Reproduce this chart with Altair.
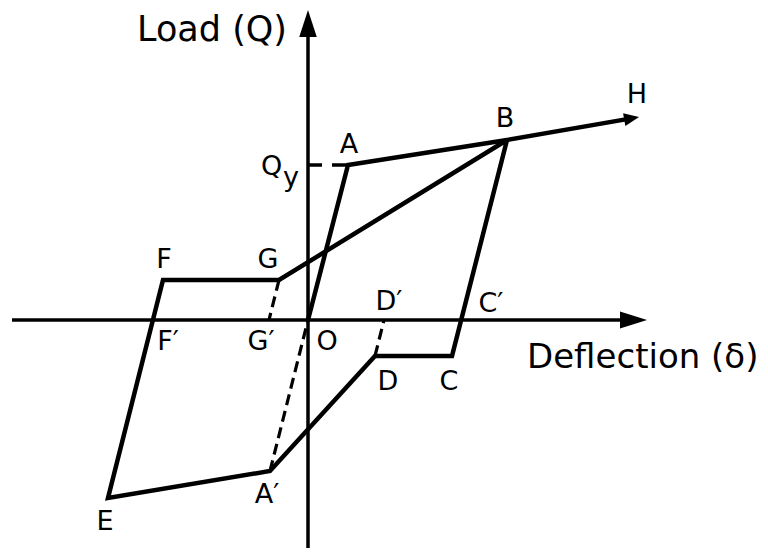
import altair as alt
import pandas as pd

# ---- data (deflection δ, load Q) in arbitrary units ----
# primary loading path O -> A -> B -> H
main_names = ["O", "A", "B", "H"]
main_x = [0.0, 4.0, 19.9, 32.2]
main_y = [0.0, 15.5, 18.0, 20.14]

# hysteresis loop B -> C -> D -> A' -> E -> F -> G -> B
loop_names = ["B", "C", "D", "A′", "E", "F", "G", "B"]
loop_x = [19.9, 14.4, 6.7, -3.8, -20.0, -14.5, -2.9, 19.9]
loop_y = [18.0, -3.6, -3.6, -15.1, -17.8, 4.0, 4.0, 18.0]

# dashed elastic unloading lines (A'-O, G-G', D-D')
dash_x1 = [-3.8, -2.9, 6.7]
dash_y1 = [-15.1, 4.0, -3.6]
dash_x2 = [0.0, -3.9, 7.6]
dash_y2 = [0.0, 0.0, 0.0]

# Q_y level marker
qy_x = [0.0, 4.0]
qy_y = [15.5, 15.5]

# axes shafts and arrow tips
xaxis_x = [-29.6, 33.0]
yaxis_y = [-22.8, 30.0]
x_tip = [33.9, 0.0]
y_tip = [0.0, 31.0]
h_tip = [33.1, 20.3]

# point labels
lab_text = ["A", "B", "H", "Q", "y", "F", "G", "F′", "G′", "O", "D′", "D", "C", "C′", "A′", "E"]
lab_x = [4.1, 19.7, 32.9, -3.65, -1.7, -14.4, -4.0, -14.0, -4.7, 1.9, 8.1, 8.0, 14.1, 18.3, -4.1, -20.3]
lab_y = [16.7, 19.3, 21.7, 14.5, 13.4, 5.2, 5.2, -3.0, -3.0, -3.0, 1.0, -7.0, -7.0, 0.8, -18.3, -21.0]

# axis titles
ytitle = ["Load (Q)"]
ytitle_x = [-2.1]
ytitle_y = [27.9]
xtitle = ["Deflection (δ)"]
xtitle_x = [21.9]
xtitle_y = [-4.8]

# ---- build ----
xs = alt.Scale(domain=[-30.0, 45.2], nice=False, zero=False)
ys = alt.Scale(domain=[-22.8, 31.2], nice=False, zero=False)
FONT = "DejaVu Sans"
BLACK = "#000000"


def X(f="x"):
    return alt.X(f"{f}:Q", scale=xs, axis=None)


def Y(f="y"):
    return alt.Y(f"{f}:Q", scale=ys, axis=None)


paths = pd.DataFrame(
    {
        "path": ["main"] * len(main_x) + ["loop"] * len(loop_x),
        "order": list(range(len(main_x))) + list(range(len(loop_x))),
        "name": main_names + loop_names,
        "x": main_x + loop_x,
        "y": main_y + loop_y,
    }
)

curve = (
    alt.Chart(paths)
    .mark_line(color=BLACK, strokeWidth=4.5, strokeJoin="miter", strokeCap="butt")
    .encode(x=X(), y=Y(), detail="path:N", order="order:Q")
)

dashed = (
    alt.Chart(pd.DataFrame({"x": dash_x1, "y": dash_y1, "x2": dash_x2, "y2": dash_y2}))
    .mark_rule(color=BLACK, strokeWidth=3.2, strokeDash=[11, 6])
    .encode(x=X(), y=Y(), x2="x2:Q", y2="y2:Q")
)

qy = (
    alt.Chart(pd.DataFrame({"x": [qy_x[0]], "x2": [qy_x[1]], "y": [qy_y[0]], "y2": [qy_y[1]]}))
    .mark_rule(color=BLACK, strokeWidth=3.5, strokeDash=[14, 10])
    .encode(x=X(), y=Y(), x2="x2:Q", y2="y2:Q")
)

axes_df = pd.DataFrame(
    {
        "x": [xaxis_x[0], 0.0],
        "x2": [xaxis_x[1], 0.0],
        "y": [0.0, yaxis_y[0]],
        "y2": [0.0, yaxis_y[1]],
    }
)
axes = (
    alt.Chart(axes_df)
    .mark_rule(color=BLACK, strokeWidth=3.5)
    .encode(x=X(), y=Y(), x2="x2:Q", y2="y2:Q")
)

x_arrow = (
    alt.Chart(pd.DataFrame({"x": [x_tip[0]], "y": [x_tip[1]]}))
    .mark_point(shape="M0,0L-2,-0.63L-2,0.63Z", size=729, filled=True, color=BLACK, opacity=1, strokeWidth=0)
    .encode(x=X(), y=Y())
)
y_arrow = (
    alt.Chart(pd.DataFrame({"x": [y_tip[0]], "y": [y_tip[1]]}))
    .mark_point(shape="M0,0L-0.65,2L0.65,2Z", size=729, filled=True, color=BLACK, opacity=1, strokeWidth=0)
    .encode(x=X(), y=Y())
)
h_arrow = (
    alt.Chart(pd.DataFrame({"x": [h_tip[0]], "y": [h_tip[1]]}))
    .mark_point(shape="M0,0L-2,-0.87L-2,0.87Z", size=225, angle=350, filled=True, color=BLACK, opacity=1, strokeWidth=0)
    .encode(x=X(), y=Y())
)

labels = (
    alt.Chart(pd.DataFrame({"x": lab_x, "y": lab_y, "t": lab_text}))
    .mark_text(font=FONT, fontSize=27, align="center", baseline="alphabetic", color=BLACK)
    .encode(x=X(), y=Y(), text="t:N")
)

ytitle_l = (
    alt.Chart(pd.DataFrame({"x": ytitle_x, "y": ytitle_y, "t": ytitle}))
    .mark_text(font=FONT, fontSize=35, align="right", baseline="alphabetic", color=BLACK)
    .encode(x=X(), y=Y(), text="t:N")
)
xtitle_l = (
    alt.Chart(pd.DataFrame({"x": xtitle_x, "y": xtitle_y, "t": xtitle}))
    .mark_text(font=FONT, fontSize=34, align="left", baseline="alphabetic", color=BLACK)
    .encode(x=X(), y=Y(), text="t:N")
)

chart = (
    alt.layer(axes, qy, dashed, curve, x_arrow, y_arrow, h_arrow, labels, ytitle_l, xtitle_l)
    .properties(width=752, height=540, padding=0, autosize=alt.AutoSizeParams(type="none"), background="white")
    .configure_view(stroke=None)
)

chart.save("out.html", embed_options={"renderer": "svg", "actions": False})
